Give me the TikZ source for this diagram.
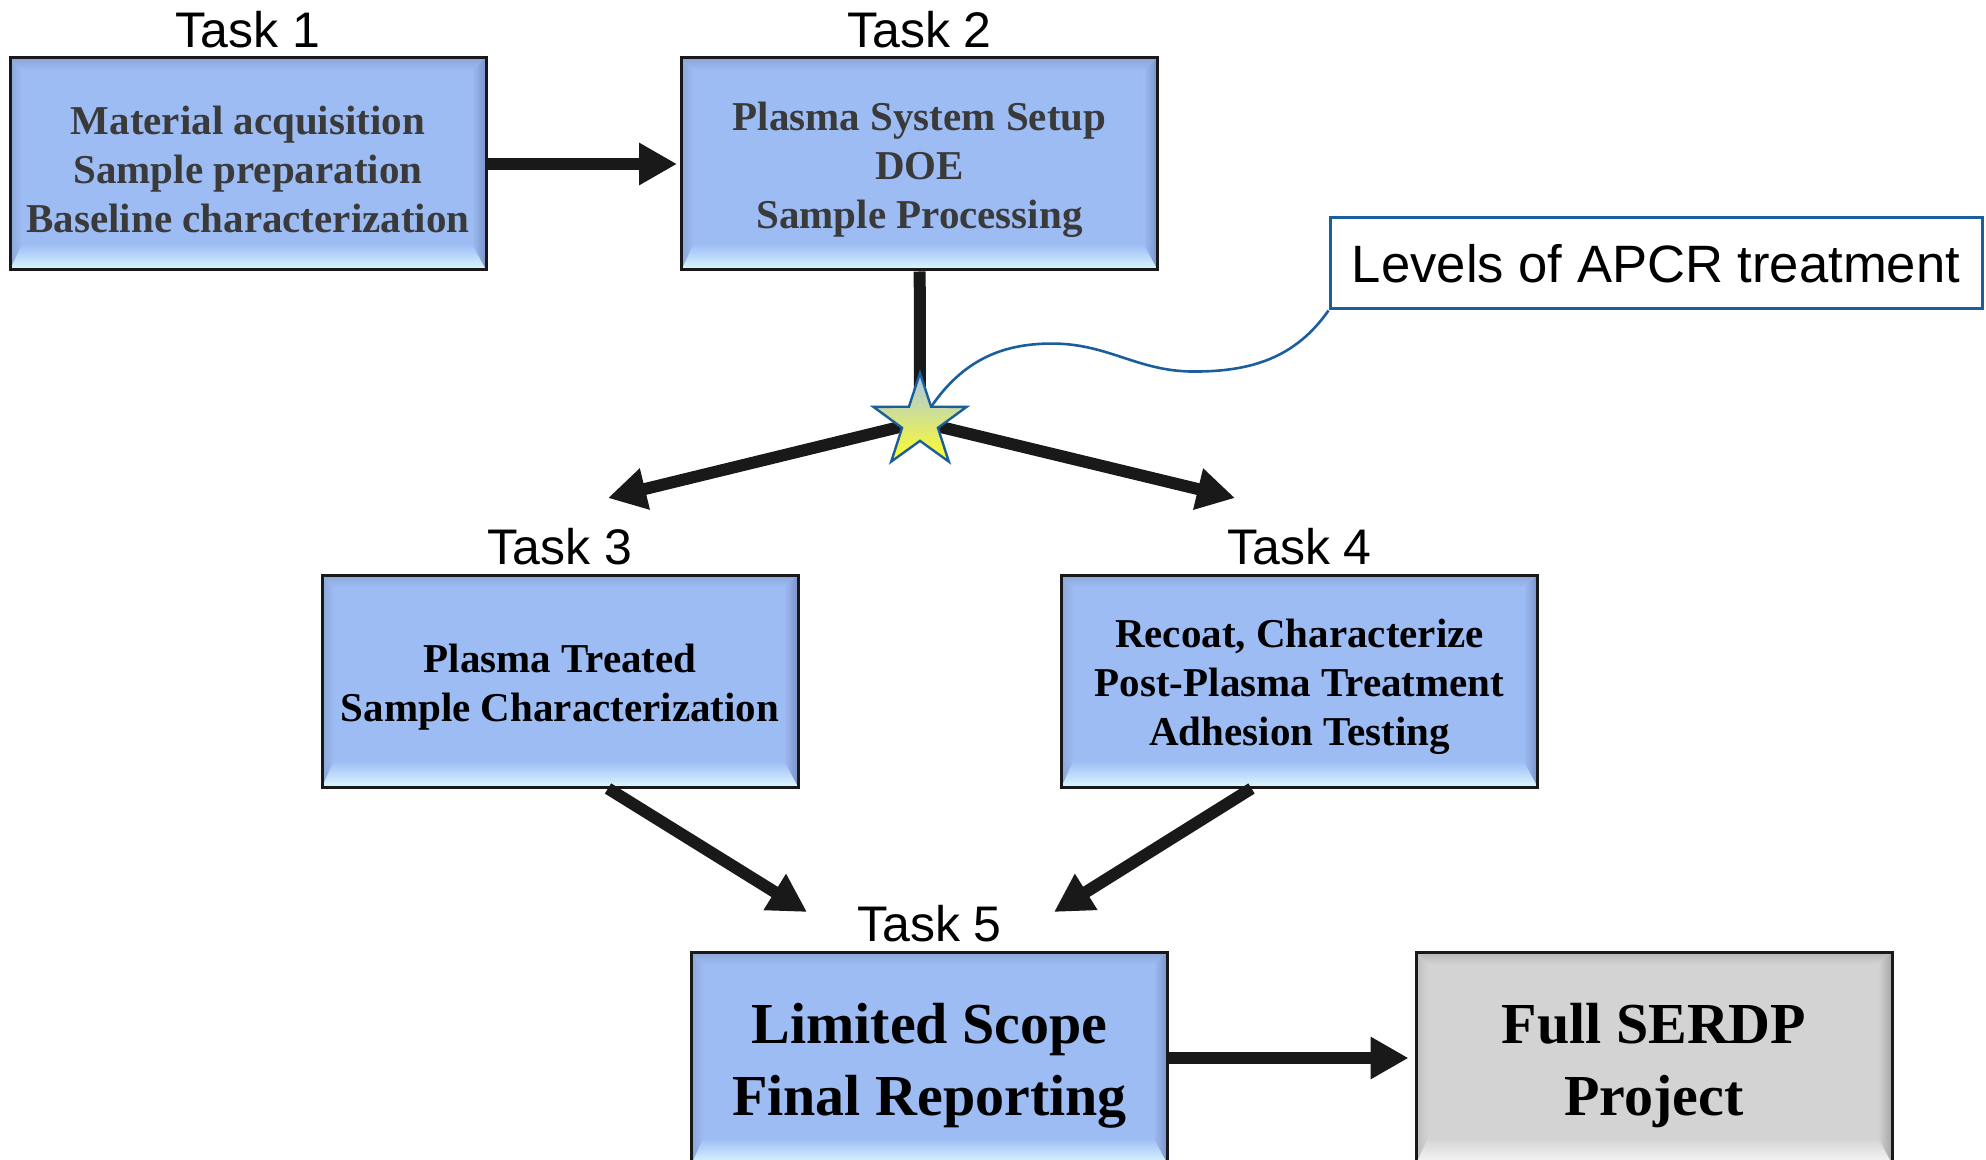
\documentclass[tikz,border=0pt]{standalone}
\usepackage{fontspec}
\setmainfont{Liberation Serif}
\newfontfamily\labelfont{Liberation Sans}
\usetikzlibrary{arrows.meta,positioning,shapes.geometric}
\definecolor{TaskBlue}{RGB}{157,188,244}
\definecolor{TaskBlueTop}{RGB}{140,164,214}
\definecolor{TaskBlueLow}{RGB}{220,248,255}
\definecolor{TaskBlueLeft}{RGB}{140,166,216}
\definecolor{TaskBlueRight}{RGB}{122,146,200}
\definecolor{TaskGray}{RGB}{211,211,211}
\definecolor{TaskGrayTop}{RGB}{180,180,180}
\definecolor{TaskGrayLow}{RGB}{248,248,248}
\definecolor{TaskGrayLeft}{RGB}{190,190,190}
\definecolor{TaskGrayRight}{RGB}{165,165,165}
\definecolor{CalloutBlue}{RGB}{26,94,158}
\definecolor{StarTop}{RGB}{168,196,235}
\definecolor{StarBottom}{RGB}{255,255,40}
\definecolor{TextGray}{RGB}{58,58,58}
% invisible struts that push the box text down a little
\newcommand\boxgap{\rule{0pt}{20pt}}
\newcommand\biggap{\rule{0pt}{27.5pt}}

\tikzset{
  bevel/.style n args={5}{fill=#1,path picture={
    \coordinate (bvA) at (path picture bounding box.north west);
    \coordinate (bvB) at (path picture bounding box.north east);
    \coordinate (bvC) at (path picture bounding box.south east);
    \coordinate (bvD) at (path picture bounding box.south west);
    \coordinate (bva) at ([shift={(6pt,-6pt)}]bvA);
    \coordinate (bvb) at ([shift={(-7pt,-6pt)}]bvB);
    \coordinate (bvc) at ([shift={(-7pt,13pt)}]bvC);
    \coordinate (bvd) at ([shift={(6pt,13pt)}]bvD);
    \shade[left color=#4,right color=#1] (bvA) -- (bva) -- (bvd) -- (bvD) -- cycle;
    \shade[left color=#1,right color=#5] (bvB) -- (bvb) -- (bvc) -- (bvC) -- cycle;
    \shade[top color=#2,bottom color=#1] (bvA) -- (bvB) -- (bvb) -- (bva) -- cycle;
    \shade[top color=#1,bottom color=#3] (bvD) -- (bvC) -- (bvc) -- (bvd) -- cycle;
  }},
}

\begin{document}
\begin{tikzpicture}[x=0.5pt,y=-0.5pt,
  taskbox/.style={draw=black!90,line width=1.5pt,minimum width=238pt,minimum height=106pt,
    inner sep=0pt,align=center,font=\bfseries\fontsize{20.5}{24.5}\selectfont,
    bevel={TaskBlue}{TaskBlueTop}{TaskBlueLow}{TaskBlueLeft}{TaskBlueRight}},
  endbox/.style={taskbox,font=\bfseries\fontsize{29}{36}\selectfont},
  tasklabel/.style={inner sep=0pt,font=\labelfont\fontsize{25}{30}\selectfont},
  flow/.style={-{Triangle[length=19pt,width=20pt]},line width=6pt,black!90},
  stem/.style={line width=6pt,black!90},
  hubstar/.style={star,star points=5,star point ratio=2.6,minimum size=49pt,inner sep=0pt,
    draw=CalloutBlue,line width=1.2pt,top color=StarTop,bottom color=StarBottom},
  callout/.style={draw=CalloutBlue,line width=1.5pt,fill=white,minimum width=326pt,
    minimum height=45.5pt,inner sep=0pt,font=\labelfont\fontsize{26.3}{30}\selectfont}]
\useasboundingbox (0,0) rectangle (1986,1160);

% task boxes
\node[taskbox,text=TextGray] (t1) at (248,164) {\boxgap Material acquisition\\Sample preparation\\Baseline characterization};
\node[taskbox,text=TextGray] (t2) at (919.5,164) {\boxgap Plasma System Setup\\DOE\\Sample Processing};
\node[taskbox] (t3) at (560,681) {\boxgap Plasma Treated\\Sample Characterization};
\node[taskbox] (t4) at (1299.5,681) {\boxgap Recoat, Characterize\\Post-Plasma Treatment\\Adhesion Testing};
\node[endbox] (t5) at (929.5,1058) {\biggap Limited Scope\\Final Reporting};
\node[endbox,bevel={TaskGray}{TaskGrayTop}{TaskGrayLow}{TaskGrayLeft}{TaskGrayRight}] (serdp) at (1654,1058) {\biggap Full SERDP\\Project};

\node[tasklabel,above=4pt of t1] (t1lbl) {Task 1};
\node[tasklabel,above=4pt of t2] (t2lbl) {Task 2};
\node[tasklabel,above=4pt of t3] (t3lbl) {Task 3};
\node[tasklabel,above=4pt of t4] (t4lbl) {Task 4};
\node[tasklabel,above=4pt of t5] (t5lbl) {Task 5};

\node[callout] (apcr) at (1656,263.5) {Levels of APCR treatment};

% connectors
\coordinate (hub) at (920,422);
\coordinate (t3in) at (608,498);
\coordinate (t4in) at (1235,498);
\coordinate (t5inl) at (807,912);
\coordinate (t5inr) at (1054,912);

\draw[flow,shorten >=1.5pt] (t1) -- (t2);
\draw[stem] (t2) -- (hub);
\draw[flow] (hub) -- (t3in);
\draw[flow] (hub) -- (t4in);
\draw[flow] ([xshift=24pt]t3.south) -- (t5inl);
\draw[flow] ([xshift=-24pt]t4.south) -- (t5inr);
\draw[flow,shorten >=3pt] (t5) -- (serdp);

\node[hubstar] (star) at (hub) {};
\draw[CalloutBlue,line width=1.3pt] (star.54) to[out=55,in=180] ++(120,-62)
  to[out=0,in=180] ++(142,28) to[out=0,in=235] (apcr.south west);
\end{tikzpicture}
\end{document}
